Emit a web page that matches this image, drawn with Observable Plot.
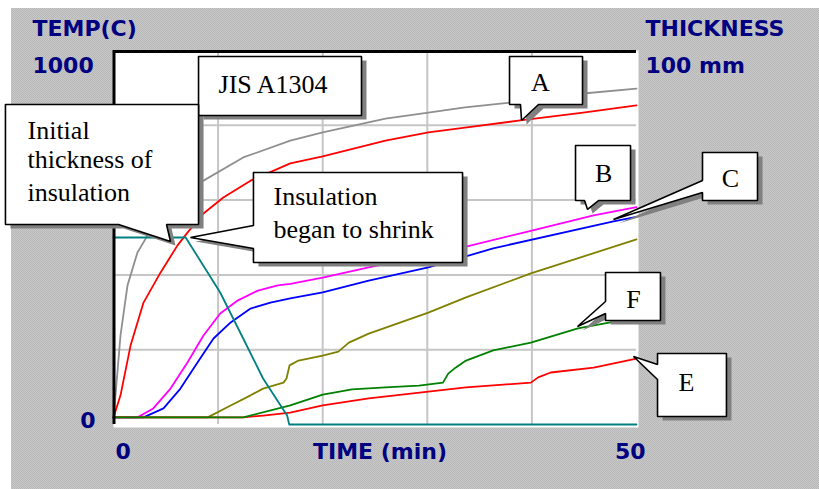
<!DOCTYPE html>
<html><head><meta charset="utf-8">
<script src="https://cdn.jsdelivr.net/npm/d3@7"></script>
<script src="https://cdn.jsdelivr.net/npm/@observablehq/plot@0.6"></script>
<style>
html,body{margin:0;padding:0;background:#fff;}
#wrap{padding:8px 0 0 11px;width:808px;height:481px;}
</style></head>
<body><div id="wrap"></div>
<script>
// ---- data: [time (min), temperature (°C)] ----
const jisA1304 = [[0,19],[0.19,78],[0.67,238],[1.34,372],[2.29,460],[3.25,505],[4.49,545],[6.4,599],[8.6,652],[12.4,714],[16.9,759],[20,781],[26,818],[30.1,834],[33.6,848],[38,861],[44.9,885],[50,898]];
const curveA = [[0,19],[0.67,78],[1.63,211],[2.87,326],[4.49,406],[6.12,479],[7.07,513],[8.6,564],[10.5,607],[13.1,652],[16.9,698],[20,717],[26,759],[30.1,781],[33.6,794],[38.9,813],[44.9,834],[50,853]];
const curveB = [[0,19],[2.3,19],[3.8,43],[5.45,96],[7.07,166],[8.6,238],[10.2,297],[11.9,332],[13.8,358],[15.7,372],[16.9,376],[20,393],[24.4,420],[33.8,476],[39.6,516],[45.9,559],[50,581]];
const curveC = [[0,19],[2.87,19],[4.78,43],[6.4,96],[8.03,166],[9.56,230],[11.2,273],[13.1,310],[15,326],[16.9,337],[20,353],[24.4,385],[30.1,420],[36.3,471],[47.8,543],[50,555]];
const curveD = [[0,19],[9,19],[11.2,51],[13.1,78],[14.3,96],[16.25,112],[16.54,123],[16.83,158],[17.69,171],[20,184],[21.5,195],[22.5,219],[24.4,243],[30.1,299],[33.7,340],[39.9,404],[50,495]];
const curveE = [[0,19],[12.4,19],[14.3,24],[16.9,32],[20,51],[24.4,70],[30.1,88],[33.7,99],[39.9,112],[40.6,126],[41.8,139],[45.9,152],[50,176]];
const curveF = [[0,19],[12.4,19],[16.9,51],[20,80],[22.8,94],[26,99],[29.2,104],[31.5,112],[32,136],[32.7,152],[33.7,171],[36.3,198],[39.9,219],[44.4,257],[47.5,273],[50,289]];
// [time (min), insulation thickness (mm)]
const thicknessMM = [[0,50],[6.9,50],[10.2,35.3],[12.4,23],[14.3,12.3],[16.6,2.4],[16.8,0],[50,0]];

const xGridTicks = [10,20,30,40];
const yGridTicks = [200,400,600,800];

// ---- callouts (data units: time, temperature) ----
const calloutJIS = [[8.13,984],[23.71,984],[23.71,826.2],[8.13,826.2]];
const calloutInitial = [[-10.33,855.6],[8.13,855.6],[8.13,534.8],[5.07,534.8],[5.45,489.3],[0.48,534.8],[-10.33,534.8]];
const calloutShrink = [[13.38,673.8],[33.37,673.8],[33.37,433.2],[13.38,433.2],[13.38,470.6],[7.36,500],[13.38,532.1]];
const calloutA = [[37.86,984],[44.84,984],[44.84,855.6],[40.63,855.6],[39.01,812.8],[38.91,855.6],[37.86,855.6]];
const calloutB = [[44.17,746],[49.43,746],[49.43,598.9],[46.37,598.9],[45.32,574.9],[45.03,598.9],[44.17,598.9]];
const calloutC = [[56.31,727.3],[61.57,727.3],[61.57,598.9],[56.31,598.9],[56.31,620.3],[47.8,548.1],[56.31,652.4]];
const calloutF = [[47.04,406.4],[52.29,406.4],[52.29,278.1],[47.04,278.1],[47.04,296.8],[44.36,262],[47.04,328.9]];
const calloutE = [[52.01,189.8],[58.6,189.8],[58.6,21.4],[52.01,21.4],[52.01,120.3],[49.71,181.8],[52.01,160.4]];

const noteLines = [
  {text:"JIS A1304", t:10.04, v:887.7},
  {text:"Initial", t:-8.22, v:764.7},
  {text:"thickness of", t:-8.22, v:684.5},
  {text:"insulation", t:-8.22, v:598.9},
  {text:"Insulation", t:15.3, v:585.6},
  {text:"began to shrink", t:15.3, v:500.0}
];
const letterLabels = [
  {text:"A", t:40.82, v:890.4},
  {text:"B", t:46.85, v:649.7},
  {text:"C", t:58.99, v:633.7},
  {text:"F", t:49.71, v:312.8},
  {text:"E", t:54.78, v:90.9}
];

// ---- build tables ----
const rows = a => a.map(([t, v]) => ({t, v}));
const polys = [calloutJIS, calloutInitial, calloutShrink, calloutA, calloutB, calloutC, calloutF, calloutE]
  .flatMap((p, i) => [...p, p[0]].map(([t, v]) => ({id: i, t, v})));

const axisFont = {fontFamily: "DejaVu Sans", fontWeight: "bold", fontSize: 22, fill: "#000080"};
const noteFont = {fontFamily: "Liberation Serif", fontSize: 26, fill: "black"};

const series = [
  [jisA1304, "#8f8f8f"],
  [curveA, "#ff0000"],
  [curveB, "#ff00ff"],
  [curveC, "#0000ff"],
  [curveD, "#808000"],
  [curveE, "#ff0000"],
  [curveF, "#008000"]
];

const plot = Plot.plot({
  width: 808, height: 481,
  marginLeft: 102, marginRight: 183, marginTop: 42, marginBottom: 65,
  x: {domain: [0, 50], axis: null},
  y: {domain: [0, 1000], axis: null},
  style: "background:#c0c0c0;overflow:visible;",
  marks: [
    Plot.frame({fill: "white", stroke: "none", insetRight: -2, insetBottom: -3}),
    Plot.ruleX(xGridTicks, {stroke: "#c6c6c6", strokeWidth: 2}),
    Plot.ruleY(yGridTicks, {stroke: "#c6c6c6", strokeWidth: 2}),
    ...series.map(([d, c]) => Plot.line(rows(d), {x: "t", y: "v", stroke: c, strokeWidth: 1.8})),
    Plot.line(rows(thicknessMM), {x: "t", y: d => d.v * 10, stroke: "#008080", strokeWidth: 1.8}),
    Plot.ruleX([0], {stroke: "black", strokeWidth: 3, dx: 0.5}),
    Plot.ruleY([1000], {stroke: "black", strokeWidth: 3, dy: 1}),
    // callouts
    Plot.line(polys, {x: "t", y: "v", z: "id", fill: "#808080", stroke: "none", dx: 5, dy: 4, curve: "linear"}),
    Plot.line(polys, {x: "t", y: "v", z: "id", fill: "white", stroke: "black", strokeWidth: 1.6, strokeLinejoin: "miter", curve: "linear"}),
    Plot.text(noteLines, {x: "t", y: "v", text: "text", textAnchor: "start", lineAnchor: "bottom", ...noteFont}),
    Plot.text(letterLabels, {x: "t", y: "v", text: "text", textAnchor: "middle", lineAnchor: "bottom", ...noteFont}),
    // axis labels
    Plot.text(["TEMP(C)"], {frameAnchor: "top-left", textAnchor: "start", lineAnchor: "middle", dx: -81, dy: -22, ariaLabel: "lab-temp", ...axisFont}),
    Plot.text(["1000"], {frameAnchor: "top-left", textAnchor: "start", lineAnchor: "middle", dx: -81, dy: 15, ...axisFont}),
    Plot.text(["0"], {frameAnchor: "bottom-left", textAnchor: "end", lineAnchor: "middle", dx: -18, dy: -4, ...axisFont}),
    Plot.text(["THICKNESS"], {frameAnchor: "top-right", textAnchor: "start", lineAnchor: "middle", dx: 9, dy: -22, ariaLabel: "lab-thick", ...axisFont}),
    Plot.text(["100 mm"], {frameAnchor: "top-right", textAnchor: "start", lineAnchor: "middle", dx: 9, dy: 15, ariaLabel: "lab-mm", ...axisFont}),
    Plot.text(["0"], {frameAnchor: "bottom-left", textAnchor: "start", lineAnchor: "middle", dx: 2, dy: 27, ...axisFont}),
    Plot.text(["TIME (min)"], {frameAnchor: "bottom", textAnchor: "middle", lineAnchor: "middle", dx: 5, dy: 27, ...axisFont}),
    Plot.text(["50"], {frameAnchor: "bottom-right", textAnchor: "end", lineAnchor: "middle", dx: 9, dy: 27, ...axisFont})
  ]
});
plot.style.backgroundImage = "repeating-conic-gradient(#b8b8b8 0 25%, #c8c8c8 0 50%)";
plot.style.backgroundSize = "2px 2px";
d3.select(plot).selectAll('g[aria-label="lab-temp"] text').attr("letter-spacing", "1px");
d3.select(plot).selectAll('g[aria-label="lab-thick"] text').attr("letter-spacing", "1.8px");
d3.select(plot).selectAll('g[aria-label="lab-mm"] text').attr("letter-spacing", "1px");
document.getElementById("wrap").appendChild(plot);
</script>
</body></html>
